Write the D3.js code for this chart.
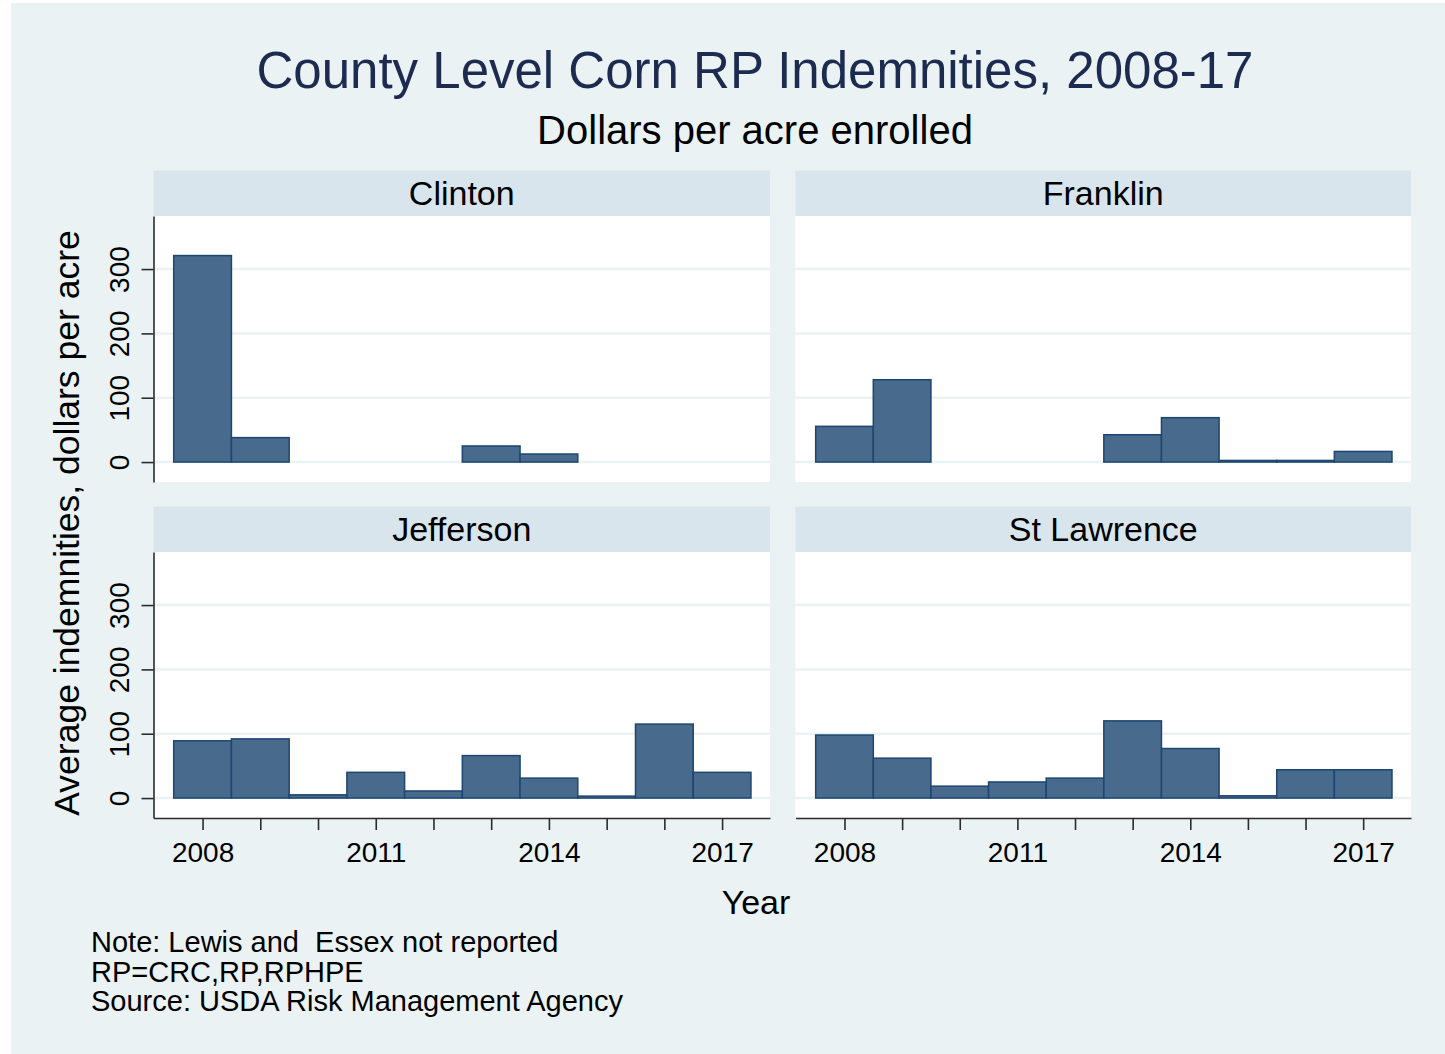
<!DOCTYPE html>
<html>
<head>
<meta charset="utf-8">
<script src="https://cdn.jsdelivr.net/npm/d3@7"></script>
<style>
  html, body { margin: 0; padding: 0; background: #ffffff; }
  svg text { font-family: "Liberation Sans", Arial, "DejaVu Sans", sans-serif; white-space: pre; }
</style>
</head>
<body>
<svg id="chart" width="1445" height="1054"></svg>
<script>
// Average indemnities (dollars per acre) by county and year; null = not reported
const years = [2008, 2009, 2010, 2011, 2012, 2013, 2014, 2015, 2016, 2017];
const counties = ["Clinton", "Franklin", "Jefferson", "St Lawrence"];
const clinton    = [321, 38, null, null, null, 25, 12.5, null, null, null];
const franklin   = [55.5, 128, null, null, null, 42.5, 69, 2.5, 2.5, 16.5];
const jefferson  = [89, 92, 5, 40, 11, 66, 31, 3, 115, 40];
const stLawrence = [98, 62, 18.5, 25, 31, 120, 77, 3.5, 44, 44];
const yTicks = [0, 100, 200, 300];
const xLabelYears = [2008, 2011, 2014, 2017];

const titleText = "County Level Corn RP Indemnities, 2008-17";
const subtitleText = "Dollars per acre enrolled";
const yTitle = "Average indemnities, dollars per acre";
const xTitle = "Year";
const notes = ["Note: Lewis and  Essex not reported", "RP=CRC,RP,RPHPE", "Source: USDA Risk Management Agency"];

const seriesByCounty = [clinton, franklin, jefferson, stLawrence];

const svg = d3.select("#chart");

// graph region
svg.append("rect").attr("x", 11).attr("y", 3).attr("width", 1434).attr("height", 1051).attr("fill", "#eaf2f3");

// titles
svg.append("text").attr("x", 755).attr("y", 88).attr("text-anchor", "middle")
  .attr("font-size", 51).attr("fill", "#1c2b4f").text(titleText);
svg.append("text").attr("x", 755).attr("y", 144).attr("text-anchor", "middle")
  .attr("font-size", 40).attr("fill", "#000").text(subtitleText);

// panel geometry
const colX = [[153.5, 770], [795.5, 1411]];
const rowY = [[216, 482], [552, 818]];
const headerH = 45.5;

const barFill = "#486a8c";
const barStroke = "#1d4670";
const axisColor = "#2b2b2b";

counties.forEach((name, i) => {
  const col = i % 2, row = Math.floor(i / 2);
  const [x0, x1] = colX[col];
  const [y0, y1] = rowY[row];

  const x = d3.scaleLinear().domain([2007.15, 2017.83]).range([x0, x1]);
  const y = d3.scaleLinear().domain([-31, 382.5]).range([y1, y0]);

  // strip header
  svg.append("rect").attr("x", x0).attr("y", y0 - headerH).attr("width", x1 - x0).attr("height", headerH)
    .attr("fill", "#d9e5ec");
  svg.append("text").attr("x", (x0 + x1) / 2).attr("y", y0 - headerH / 2).attr("dy", "0.36em")
    .attr("text-anchor", "middle").attr("font-size", 34).attr("fill", "#000").text(name);

  // plot region
  svg.append("rect").attr("x", x0).attr("y", y0).attr("width", x1 - x0).attr("height", y1 - y0)
    .attr("fill", "#ffffff");

  // grid lines
  svg.append("g").selectAll("line").data(yTicks).join("line")
    .attr("x1", x0).attr("x2", x1)
    .attr("y1", d => y(d)).attr("y2", d => y(d))
    .attr("stroke", "#eaf2f3").attr("stroke-width", 2.5);

  // bars
  const data = years.map((yr, k) => ({ year: yr, value: seriesByCounty[i][k] }))
    .filter(d => d.value !== null);
  svg.append("g").selectAll("rect").data(data).join("rect")
    .attr("x", d => x(d.year - 0.5))
    .attr("width", d => x(d.year + 0.5) - x(d.year - 0.5))
    .attr("y", d => y(d.value))
    .attr("height", d => y(0) - y(d.value))
    .attr("fill", barFill).attr("stroke", barStroke).attr("stroke-width", 1.5);

  // y axis on left column
  if (col === 0) {
    const ya = svg.append("g").attr("transform", `translate(${x0},0)`)
      .call(d3.axisLeft(y).tickValues(yTicks).tickSize(12).tickSizeOuter(0));
    ya.select(".domain").attr("stroke", axisColor).attr("stroke-width", 1.6);
    ya.selectAll(".tick line").attr("stroke", axisColor).attr("stroke-width", 1.6);
    ya.selectAll(".tick text")
      .attr("x", null).attr("dy", null)
      .attr("transform", "translate(-35,0) rotate(-90)")
      .attr("dy", "0.36em")
      .attr("text-anchor", "middle")
      .attr("font-size", 28).attr("fill", "#000")
      .style("font-family", '"Liberation Sans", Arial, sans-serif');
  }

  // x axis on bottom row
  if (row === 1) {
    const xa = svg.append("g").attr("transform", `translate(0,${y1})`)
      .call(d3.axisBottom(x).tickValues(years).tickSize(12).tickSizeOuter(0)
        .tickFormat(d => xLabelYears.includes(d) ? String(d) : ""));
    xa.select(".domain").attr("stroke", axisColor).attr("stroke-width", 1.6);
    xa.selectAll(".tick line").attr("stroke", axisColor).attr("stroke-width", 1.6);
    xa.selectAll(".tick text")
      .attr("y", 24).attr("dy", "0.71em")
      .attr("font-size", 28).attr("fill", "#000")
      .style("font-family", '"Liberation Sans", Arial, sans-serif');
  }
});

// axis titles
svg.append("text").attr("transform", "translate(66,523) rotate(-90)").attr("dy", "0.36em")
  .attr("text-anchor", "middle").attr("font-size", 35.5).attr("fill", "#000").text(yTitle);
svg.append("text").attr("x", 756).attr("y", 902).attr("dy", "0.36em")
  .attr("text-anchor", "middle").attr("font-size", 34).attr("fill", "#000").text(xTitle);

// notes
svg.append("g").selectAll("text").data(notes).join("text")
  .attr("x", 91).attr("y", (d, k) => 952 + k * 29.5)
  .attr("font-size", 29).attr("fill", "#000").text(d => d);
</script>
</body>
</html>
